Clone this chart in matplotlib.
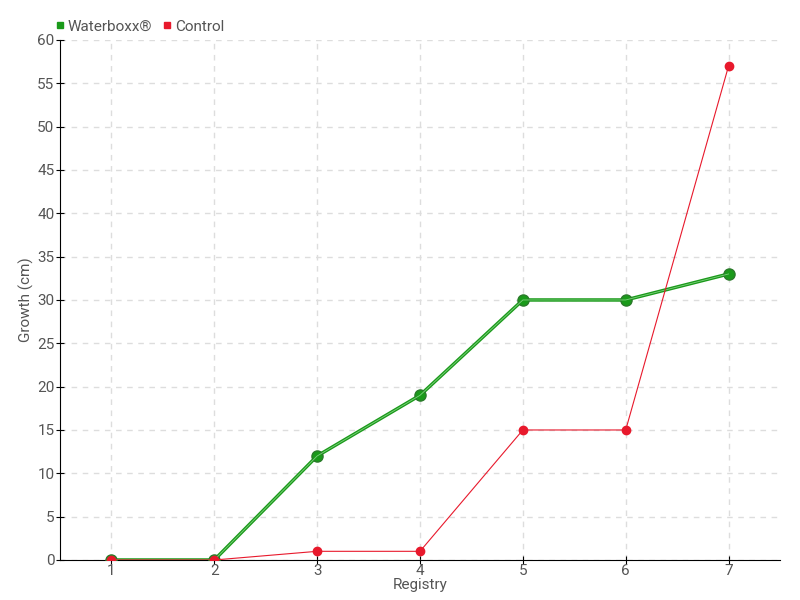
import matplotlib
matplotlib.use("Agg")
import matplotlib.pyplot as plt
from matplotlib.lines import Line2D

registry = [1, 2, 3, 4, 5, 6, 7]
waterboxx = [0, 0, 12, 19, 30, 30, 33]
control = [0, 0, 1, 1, 15, 15, 57]

green = "#1a9a1a"
red = "#e8192c"
txt = "#555555"

plt.rcParams["font.family"] = ["Roboto", "DejaVu Sans"]

fig = plt.figure(figsize=(8, 6), dpi=100)
ax = fig.add_axes([0.075, 0.0667, 0.9, 0.8667])

ax.plot(registry, waterboxx, color=green, lw=2.5, marker="o", ms=8,
        markeredgecolor="#2a7a2a", markerfacecolor=green, zorder=3)
ax.plot(registry, waterboxx, color="#7fd07f", lw=0.6, zorder=3.5)
ax.plot(registry, control, color=red, lw=0.8, marker="o", ms=6,
        markeredgecolor=red, markerfacecolor=red, zorder=4)

ax.set_xlim(0.5, 7.5)
ax.set_ylim(0, 60)
ax.set_xticks(registry)
ax.set_yticks(range(0, 61, 5))
ax.grid(True, color="#dddddd", linestyle=(0, (4, 4)), lw=1)
ax.set_axisbelow(True)
for s in ["top", "right"]:
    ax.spines[s].set_visible(False)
ax.spines["left"].set_color("black")
ax.spines["bottom"].set_color("black")
ax.tick_params(direction="inout", length=6, colors="black", labelcolor=txt, labelsize=11)
ax.tick_params(axis="x", pad=0)
ax.tick_params(axis="y", pad=1)
ax.set_xlabel("Registry", color=txt, fontsize=11, labelpad=0)
ax.set_ylabel("Growth (cm)", color=txt, fontsize=11, labelpad=2)

handles = [Line2D([], [], ls="", marker="s", ms=5, color=green),
           Line2D([], [], ls="", marker="s", ms=5, color=red)]
fig.legend(handles, ["Waterboxx®", "Control"], loc="upper left",
           bbox_to_anchor=(0.05, 0.99), ncol=2, frameon=False,
           handletextpad=0.1, columnspacing=0.6, fontsize=11,
           labelcolor=txt, handlelength=0.8)

fig.savefig("out.png")
